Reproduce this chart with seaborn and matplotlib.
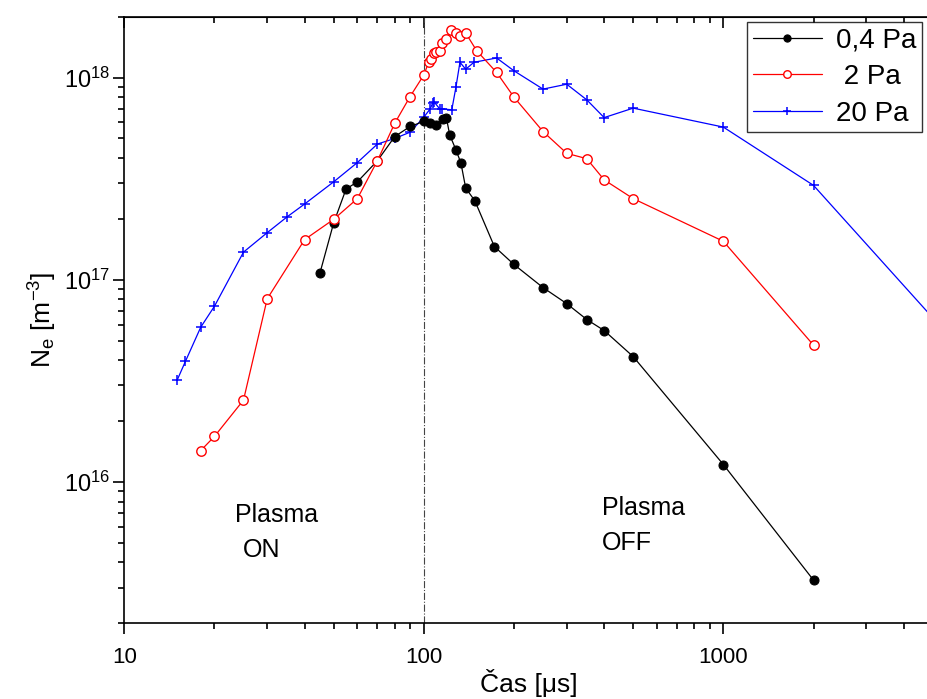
import numpy as np
import pandas as pd
import matplotlib
matplotlib.use("Agg")
import matplotlib.pyplot as plt
import matplotlib.ticker as mticker
import seaborn as sns

# time [us] and electron density [m^-3]
t_04 = [45, 50, 55, 60, 70, 80, 90, 100, 105, 110, 116, 119, 122, 128, 133, 138, 148,
        172, 200, 250, 300, 350, 400, 500, 1000, 2000]
n_04 = [1.08e17, 1.91e17, 2.81e17, 3.05e17, 3.88e17, 5.11e17, 5.73e17, 6.07e17, 5.96e17,
        5.84e17, 6.23e17, 6.3e17, 5.21e17, 4.39e17, 3.78e17, 2.84e17, 2.46e17, 1.46e17,
        1.19e17, 9.15e16, 7.62e16, 6.36e16, 5.61e16, 4.17e16, 1.22e16, 3.27e15]

t_2 = [18, 20, 25, 30, 40, 50, 60, 70, 80, 90, 100, 104, 106, 108, 110, 113, 115, 119,
       123, 128, 132, 138, 150, 175, 200, 250, 300, 350, 400, 500, 1000, 2000]
n_2 = [1.43e16, 1.68e16, 2.54e16, 8.05e16, 1.58e17, 1.99e17, 2.52e17, 3.88e17, 5.95e17,
       8.06e17, 1.03e18, 1.2e18, 1.24e18, 1.33e18, 1.34e18, 1.36e18, 1.48e18, 1.55e18,
       1.71e18, 1.66e18, 1.61e18, 1.66e18, 1.36e18, 1.06e18, 8.0e17, 5.41e17, 4.22e17,
       3.97e17, 3.12e17, 2.52e17, 1.55e17, 4.75e16]

t_20 = [15, 16, 18, 20, 25, 30, 35, 40, 50, 60, 70, 80, 90, 100, 105, 107, 108, 113, 115,
        124, 128, 132, 138, 147, 175, 200, 250, 300, 350, 400, 500, 1000, 2000, 5000]
n_20 = [3.18e16, 3.95e16, 5.83e16, 7.4e16, 1.37e17, 1.71e17, 2.05e17, 2.37e17, 3.05e17,
        3.8e17, 4.69e17, 5.0e17, 5.37e17, 6.37e17, 7.0e17, 7.47e17, 7.61e17, 7.0e17, 7.0e17,
        6.93e17, 8.97e17, 1.19e18, 1.1e18, 1.19e18, 1.25e18, 1.08e18, 8.77e17, 9.27e17,
        7.76e17, 6.34e17, 7.06e17, 5.69e17, 2.93e17, 6.49e16]

sns.set_style("ticks")
plt.rcParams["font.family"] = ["Liberation Sans", "DejaVu Sans"]
plt.rcParams["mathtext.fontset"] = "custom"
plt.rcParams["mathtext.rm"] = "Liberation Sans"
plt.rcParams["mathtext.it"] = "Liberation Sans"
plt.rcParams["mathtext.default"] = "regular"
for k in ["text.color", "axes.labelcolor", "xtick.color", "ytick.color", "axes.edgecolor"]:
    plt.rcParams[k] = "black"

fig = plt.figure(figsize=(9.28, 6.99), dpi=100)
# axes run a little past the right edge of the figure, as in the original
ax = fig.add_axes([124.3 / 928, 1 - 623.3 / 699, 808.4 / 928, 606.6 / 699])

d04 = pd.DataFrame({"t": t_04, "n": n_04})
d2 = pd.DataFrame({"t": t_2, "n": n_2})
d20 = pd.DataFrame({"t": t_20, "n": n_20})

sns.lineplot(data=d20, x="t", y="n", ax=ax, sort=False, estimator=None, color="#0000ff",
             lw=0.9, marker="+", ms=7, mew=1.1, mec="#0000ff", label="20 Pa", zorder=3,
             clip_on=False)
sns.lineplot(data=d04, x="t", y="n", ax=ax, sort=False, estimator=None, color="black",
             lw=0.9, marker="o", ms=6.5, mec="black", mfc="black", label="0,4 Pa", zorder=4)
sns.lineplot(data=d2, x="t", y="n", ax=ax, sort=False, estimator=None, color="#ff0000",
             lw=0.9, marker="o", ms=6.8, mec="#ff0000", mfc="white", mew=1.0,
             label="2 Pa", zorder=5)

ax.axvline(100, color="#444444", lw=0.8, ls="-.", zorder=1)

ax.set_xscale("log")
ax.set_yscale("log")
ax.set_xlim(10, 5000)
ax.set_ylim(2e15, 2e18)

ax.xaxis.set_major_formatter(mticker.FuncFormatter(lambda v, p: f"{v:g}"))
ax.xaxis.set_minor_formatter(mticker.NullFormatter())
ax.yaxis.set_major_locator(mticker.LogLocator(base=10, numticks=10))

for s in ["left", "bottom", "top", "right"]:
    ax.spines[s].set_linewidth(1.2)
ax.tick_params(axis="x", which="major", direction="out", length=8, width=1.2,
               labelsize=16, pad=9, top=False)
ax.tick_params(axis="x", which="minor", direction="out", length=4, width=1.2, top=False)
ax.tick_params(axis="y", which="major", direction="out", length=8, width=1.2,
               labelsize=17, pad=2)
ax.tick_params(axis="y", which="minor", direction="out", length=4, width=1.2)

# top axis with inward ticks
sec = ax.secondary_xaxis("top")
sec.set_xscale("log")
sec.tick_params(which="major", direction="in", length=8, width=1.2, labeltop=False)
sec.tick_params(which="minor", direction="in", length=4, width=1.2)
sec.xaxis.set_major_formatter(mticker.NullFormatter())
sec.xaxis.set_minor_formatter(mticker.NullFormatter())

ax.set_xlabel("Čas [μs]", fontsize=19, labelpad=1)
ax.set_ylabel("N$_e$ [m$^{-3}$]", fontsize=19, labelpad=4)

ax.text(0.137, 0.178, "Plasma", transform=ax.transAxes, fontsize=18, va="center")
ax.text(0.147, 0.121, "ON", transform=ax.transAxes, fontsize=18, va="center")
ax.text(0.591, 0.19, "Plasma", transform=ax.transAxes, fontsize=18, va="center")
ax.text(0.591, 0.133, "OFF", transform=ax.transAxes, fontsize=18, va="center")

h, l = ax.get_legend_handles_labels()
order = [l.index("0,4 Pa"), l.index("2 Pa"), l.index("20 Pa")]
leg = ax.legend([h[i] for i in order], ["0,4 Pa", " 2 Pa", "20 Pa"], loc="upper right",
                bbox_to_anchor=(922 / 928, 1 - 22 / 699), bbox_transform=fig.transFigure,
                borderaxespad=0, fontsize=20, frameon=True, fancybox=False,
                handlelength=2.5, handletextpad=0.5, labelspacing=0.38,
                borderpad=0.2, markerscale=0.8)
leg.get_frame().set_edgecolor("black")
leg.get_frame().set_linewidth(1.0)

fig.savefig("out.png", dpi=100)
